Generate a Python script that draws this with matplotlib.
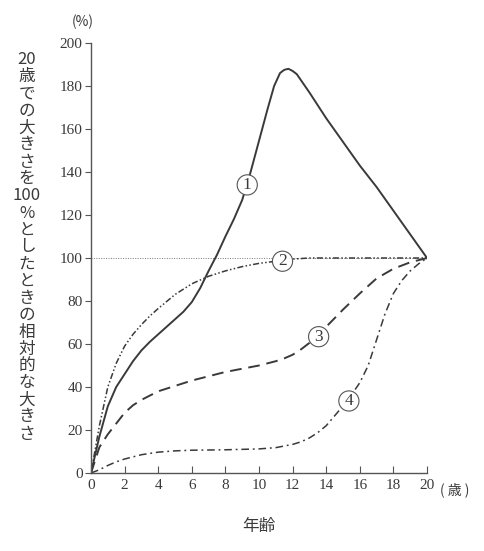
import numpy as np
import matplotlib

matplotlib.use('agg')
import matplotlib.pyplot as plt

# (age in years, size relative to size at 20 in %)
age_1 = [0, 0.5, 1, 1.5, 2, 2.5, 3, 3.5, 4, 4.5, 5, 5.5, 6, 6.5, 7, 7.5, 8, 8.5, 9, 9.5, 10, 10.5, 10.9, 11.25, 11.5, 11.75, 12, 12.25, 13, 14, 15, 16, 17, 18, 19, 20]
val_1 = [0, 17, 31, 40, 46, 52, 57, 61, 64.5, 68, 71.5, 75, 79.5, 86, 94, 101.5, 110, 118, 127, 140, 154.5, 169, 180, 186, 187.5, 188, 187, 185.5, 177, 165, 154, 143, 133, 122, 111, 100]

age_2 = [0, 0.5, 1, 1.5, 2, 2.5, 3, 3.5, 4, 5, 6, 7, 8, 9, 10, 11, 12, 13, 14, 16, 18, 20]
val_2 = [0, 22, 40, 51, 59, 64.5, 69, 73, 76.5, 83, 88, 91.5, 94, 96, 97.5, 98.5, 99.5, 100, 100, 100, 100, 100]

age_3 = [0, 0.5, 1, 1.5, 2, 2.5, 3, 4, 5, 6, 7, 8, 9, 10, 11, 11.5, 12, 12.5, 13, 14, 15, 16, 17, 18, 19, 20]
val_3 = [0, 12, 18, 23, 28, 31.5, 34, 38, 40.5, 43, 45, 47, 48.5, 50, 52, 53.3, 55, 57.5, 60.5, 68, 76, 83.5, 90.5, 95, 98, 100]

age_4 = [0, 0.5, 1, 1.5, 2, 3, 4, 5, 6, 8, 10, 11, 12, 12.5, 13, 13.5, 14, 14.6, 15.3, 16, 16.5, 17, 17.5, 18, 18.5, 19, 19.5, 20]
val_4 = [0, 1.5, 3.5, 5.2, 6.5, 8.5, 9.7, 10.3, 10.6, 10.8, 11.2, 11.8, 13.3, 14.5, 16.3, 18.8, 22, 27.5, 34, 42, 50, 62, 74, 83.5, 89.5, 94, 97.3, 100]

labels = ['1', '2', '3', '4']
label_pos = [(9.3, 134), (11.4, 98.5), (13.55, 63.4), (15.35, 33.5)]

x_ticks = list(range(0, 21, 2))
y_ticks = list(range(0, 201, 20))

ink = '#3a3a3a'
num_font = ['Liberation Serif', 'Noto Sans CJK JP']
jp_font = ['Noto Sans CJK JP', 'DejaVu Sans']

fig = plt.figure(figsize=(4.84, 5.51), dpi=100)
ax = fig.add_axes([91 / 484, 1 - 473 / 551, 336 / 484, 430 / 551])

ax.hlines(100, 0, 20, colors='#777777', linestyles=(0, (1, 1.5)), linewidth=0.7)

ax.plot(age_1, val_1, color=ink, linewidth=1.4, linestyle='-')
ax.plot(age_2, val_2, color=ink, linewidth=1.1, linestyle=(0, (4, 1.5, 1, 1.5, 1, 1.5)))
ax.plot(age_3, val_3, color=ink, linewidth=1.4, linestyle=(0, (6, 3.5)))
ax.plot(age_4, val_4, color=ink, linewidth=1.1, linestyle=(0, (5, 2.5, 1.2, 2.5)))

for lab, (lx, ly) in zip(labels, label_pos):
    ax.text(lx, ly, lab, family=num_font, fontsize=12.5, color=ink,
            ha='center', va='center',
            bbox=dict(boxstyle='circle,pad=0.12', fc='white', ec='#555555', lw=0.8))

ax.set_xlim(0, 20)
ax.set_ylim(0, 200)
ax.set_xticks(x_ticks)
ax.set_yticks(y_ticks)
ax.set_xticklabels([str(t) for t in x_ticks], family=num_font, fontsize=11, color=ink)
ax.set_yticklabels([str(t) for t in y_ticks], family=num_font, fontsize=11, color=ink)
ax.tick_params(axis='x', direction='in', length=5, color='#555555', pad=4)
ax.tick_params(axis='y', direction='out', length=4, color='#555555', pad=2)
for s in ['top', 'right']:
    ax.spines[s].set_visible(False)
for s in ['left', 'bottom']:
    ax.spines[s].set_color('#555555')
    ax.spines[s].set_linewidth(1.0)
ax.patch.set_alpha(0)

# unit labels
fig.text(83 / 484, 1 - 22 / 551, '(%)', family=jp_font, fontsize=10, color=ink, ha='center', va='center')
fig.text(440 / 484, 1 - 490 / 551, '( 歳 )', family=jp_font, fontsize=10, color=ink, ha='left', va='center')
fig.text(259 / 484, 1 - 527 / 551, '年齢', family=jp_font, fontsize=12, color=ink, ha='center', va='center')

# vertical y label, one character per line
ylab = ['20', '歳', 'で', 'の', '大', 'き', 'さ', 'を', '100', '%', 'と', 'し', 'た', 'と', 'き', 'の', '相', '対', '的', 'な', '大', 'き', 'さ']
fig.text(27 / 484, 1 - 247 / 551, '\n'.join(ylab), family=jp_font, fontsize=12, color=ink,
         ha='center', va='center', linespacing=1.0, multialignment='center')

fig.savefig('out.png', dpi=100)
